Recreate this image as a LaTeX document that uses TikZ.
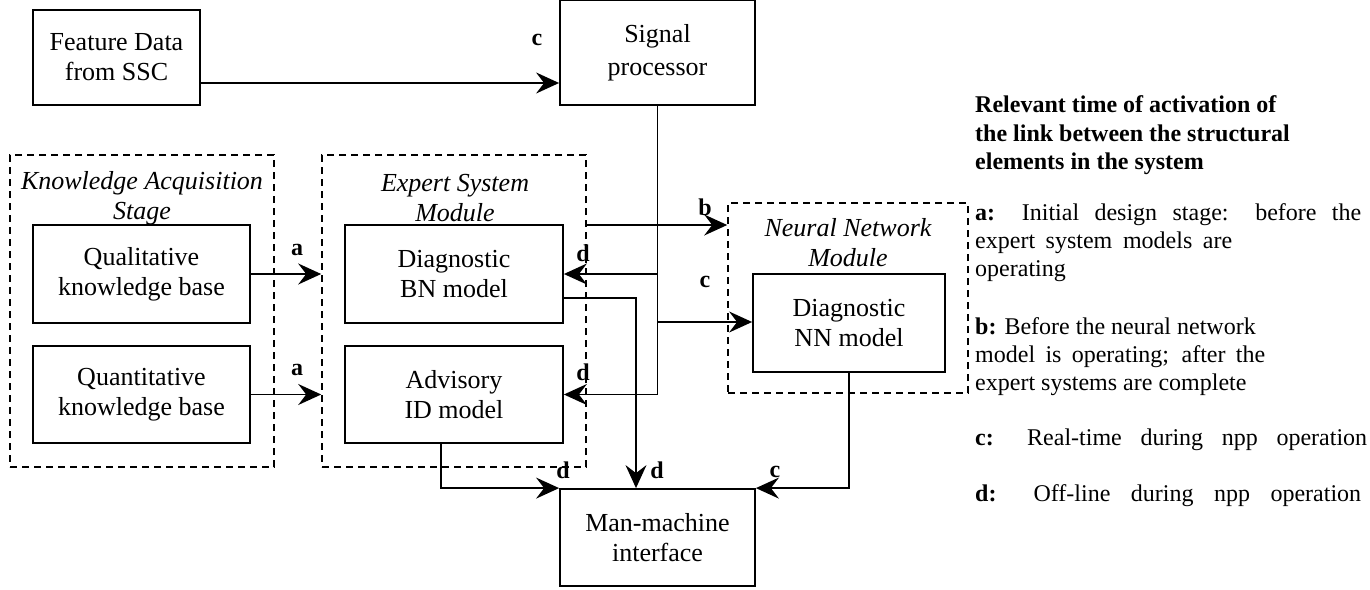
\documentclass[tikz,border=0pt]{standalone}
\usepackage{fontspec}
\setmainfont{Liberation Serif}
\usetikzlibrary{arrows.meta}
\begin{document}
\begin{tikzpicture}[x=1pt,y=-1pt,
 box/.style={draw,line width=1.8pt,align=center,inner sep=0pt,font=\fontsize{26}{30}\selectfont},
 grp/.style={draw,dash pattern=on 7pt off 5pt,line width=1.6pt,inner sep=0pt},
 ttl/.style={font=\fontsize{26}{30}\selectfont\itshape,align=center,inner sep=0pt},
 lab/.style={font=\fontsize{24}{28}\selectfont\bfseries,inner sep=0pt},
 tip/.style={-{Stealth[length=23pt,width=21pt,inset=8pt]}},
 arr/.style={line width=1.8pt,tip},
 leg/.style={font=\fontsize{24}{28}\selectfont,anchor=base west,inner sep=0pt}]
\useasboundingbox (0,0) rectangle (1370,589);

% dashed groups
\node[grp,minimum width=264pt,minimum height=312pt] (ka) at (142,311) {};
\node[grp,minimum width=264pt,minimum height=312pt] (es) at (454,311) {};
\node[grp,minimum width=240pt,minimum height=190pt] (nnm) at (848,298) {};
\node[ttl] (kat) at (142,198) {Knowledge Acquisition\\Stage};
\node[ttl] (est) at (455,198) {Expert System\\Module};
\node[ttl] (nnt) at (848,243) {Neural Network\\Module};

% boxes
\node[box,minimum width=167pt,minimum height=95pt] (feat) at (116.5,57.5) {Feature Data\\from SSC};
\node[box,minimum width=195pt,minimum height=105pt,font=\fontsize{26}{33}\selectfont] (sig) at (657.5,52.5) {Signal\\processor};
\node[box,minimum width=217pt,minimum height=98pt] (qual) at (141.5,274) {Qualitative\\knowledge base};
\node[box,minimum width=217pt,minimum height=97pt] (quant) at (141.5,394.5) {Quantitative\\knowledge base};
\node[box,minimum width=218pt,minimum height=98pt] (bn) at (454,274) {Diagnostic\\BN model};
\node[box,minimum width=218pt,minimum height=97pt] (id) at (454,394.5) {Advisory\\ID model};
\node[box,minimum width=192pt,minimum height=98pt] (nn) at (849,323) {Diagnostic\\NN model};
\node[box,minimum width=195pt,minimum height=97pt] (mmi) at (657.5,537.5) {Man-machine\\interface};

% helper coordinates
\coordinate (y83) at (0,83);
\coordinate (y225) at (0,225);
\coordinate (y298) at (0,298);
\coordinate (y322) at (0,322);
\coordinate (x636) at (636,0);
\coordinate (x441) at (441,0);

% connectors
\draw[arr] (feat.east |- y83) -- (sig.west |- y83);
\draw[arr] (sig.south) |- (id.east);
\draw[arr] (sig.south |- bn.east) -- (bn.east);
\draw[arr] (sig.south |- y322) -- (nn.west |- y322);
\draw[arr] (qual.east) -- (es.west |- qual.east);
\draw[arr] (quant.east) -- (es.west |- quant.east);
\draw[arr] (es.east |- y225) -- (nnm.west |- y225);
\draw[line width=1.2pt,tip] (bn.east |- y298) -| (x636 |- mmi.north);
\draw[arr] (x441 |- id.south) |- (mmi.north west);
\draw[arr] (nn.south) |- (mmi.north east);

% link labels
\node[lab] (l1) at (537,40) {c};
\node[lab] (l2) at (297,250) {a};
\node[lab] (l3) at (297,370) {a};
\node[lab] (l4) at (705,207) {b};
\node[lab] (l5) at (583,253) {d};
\node[lab] (l6) at (705,282) {c};
\node[lab] (l7) at (583,372) {d};
\node[lab] (l8) at (563,470) {d};
\node[lab] (l9) at (657,470) {d};
\node[lab] (l10) at (775,472) {c};

% legend
\node[leg,font=\fontsize{24}{28}\selectfont\bfseries] (h1) at (975,112) {Relevant time of activation of};
\node[leg,font=\fontsize{24}{28}\selectfont\bfseries] (h2) at (975,141) {the link between the structural};
\node[leg,font=\fontsize{24}{28}\selectfont\bfseries] (h3) at (975,169) {elements in the system};
\node[leg] (a1) at (975,220) {\makebox[386pt][s]{\textbf{a:} Initial design stage: before the}};
\node[leg] (a2) at (975,248) {\makebox[257pt][s]{expert system models are}};
\node[leg] (a3) at (975,276) {operating};
\node[leg] (b1) at (975,334) {\textbf{b:} Before the neural network};
\node[leg] (b2) at (975,362) {\makebox[290pt][s]{model is operating; after the}};
\node[leg] (b3) at (975,390) {expert systems are complete};
\node[leg] (c1) at (975,445) {\makebox[392pt][s]{\textbf{c:} Real-time during npp operation}};
\node[leg] (d1) at (975,501) {\makebox[386pt][s]{\textbf{d:} Off-line during npp operation}};
\end{tikzpicture}
\end{document}
